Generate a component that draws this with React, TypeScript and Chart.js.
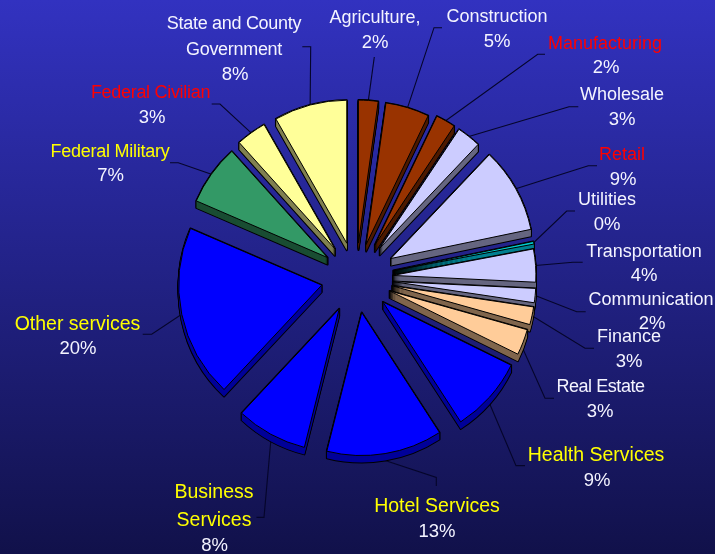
import React, { useEffect, useRef } from "react";
import { Chart, registerables } from "chart.js";

Chart.register(...registerables);

const categories = [
  "Agriculture", "Construction", "Manufacturing", "Wholesale", "Retail", "Utilities",
  "Transportation", "Communication", "Finance", "Real Estate", "Health Services",
  "Hotel Services", "Business Services", "Other services", "Federal Military",
  "Federal Civilian", "State and County Government",
];
// Share of employment
const shares = [2.2, 4.9, 2.2, 2.7, 9.6, 0.3, 3.7, 1.6, 2.0, 2.9, 8.5, 13.0, 8.0, 19.4, 6.8, 3.4, 8.2];
const percentLabels = ["2%", "5%", "2%", "3%", "9%", "0%", "4%", "2%", "3%", "3%", "9%", "13%", "8%", "20%", "7%", "3%", "8%"];

const WHITE = "#F4F4FF";
const RED = "#FF0000";
const YELLOW = "#FFFF00";

const faceColors = [
  "#993300", "#993300", "#993300", "#CCCCFF", "#CCCCFF", "#00CCCC", "#CCCCFF", "#CCCCFF", "#FFCC99",
  "#FFCC99", "#0000FF", "#0000FF", "#0000FF", "#0000FF", "#339966", "#FFFF99", "#FFFF99",
];
const sideColors = [
  "#4D1A00", "#4D1A00", "#4D1A00", "#666680", "#666680", "#008090", "#666680", "#666680", "#80664D",
  "#80664D", "#000099", "#000099", "#000099", "#000099", "#1A4D33", "#808050", "#808050",
];
const explode = [35, 35, 38, 38, 40, 38, 37, 37, 37, 36, 36, 35, 35, 35, 35, 36, 36];
const DEPTH = 7;

// Hand-placed callouts: text lines [text, centre x, baseline y], and the leader's elbow and end.
type Callout = { color: string; size: number; track?: number; lines: [string, number, number][]; pct: [number, number]; leader: [number, number][] };
const callouts: Callout[] = [
  { color: WHITE, size: 18, lines: [["Agriculture,", 375, 23]], pct: [375, 48], leader: [[374.3, 57]] },
  { color: WHITE, size: 18, lines: [["Construction", 497, 22]], pct: [497, 47], leader: [[434, 27.7], [442, 27.7]] },
  { color: RED, size: 18, lines: [["Manufacturing", 605, 49]], pct: [606, 73], leader: [[537.7, 54.3], [545, 54.3]] },
  { color: WHITE, size: 18, lines: [["Wholesale", 622, 100]], pct: [622, 125], leader: [[569, 106.7], [578.3, 106.7]] },
  { color: RED, size: 18, lines: [["Retail", 622, 160]], pct: [623, 185], leader: [[588.3, 165.7], [597, 165.7]] },
  { color: WHITE, size: 18, lines: [["Utilities", 607, 205]], pct: [607, 230], leader: [[566.7, 211], [575, 211]] },
  { color: WHITE, size: 18, lines: [["Transportation", 644, 257]], pct: [644, 281], leader: [[573, 262.3], [582.7, 262.3]] },
  { color: WHITE, size: 18, lines: [["Communication", 651, 305]], pct: [652, 329], leader: [[576.7, 311.7], [585.7, 311.7]] },
  { color: WHITE, size: 18, lines: [["Finance", 629, 342]], pct: [629, 367], leader: [[585, 348.3], [594, 348.3]] },
  { color: WHITE, size: 18, track: -0.45, lines: [["Real Estate", 600.5, 392]], pct: [600, 417], leader: [[545, 398.3], [554, 398.3]] },
  { color: YELLOW, size: 19.5, lines: [["Health Services", 596, 461]], pct: [597, 486], leader: [[516, 465.6], [525, 465.6]] },
  { color: YELLOW, size: 19.5, lines: [["Hotel Services", 437, 512]], pct: [437, 537], leader: [[436.3, 477.5], [436.3, 486]] },
  { color: YELLOW, size: 19.5, lines: [["Business", 214, 498], ["Services", 214, 526]], pct: [214.5, 551], leader: [[264, 517.4], [256.5, 517.4]] },
  { color: YELLOW, size: 19.5, lines: [["Other services", 77.5, 330]], pct: [78, 354], leader: [[151.7, 334.3], [142.7, 334.3]] },
  { color: YELLOW, size: 18, track: -0.25, lines: [["Federal Military", 110, 157]], pct: [110.5, 181], leader: [[178.3, 162.7], [170, 162.7]] },
  { color: RED, size: 18, track: -0.3, lines: [["Federal Civilian", 150.5, 98]], pct: [152, 123], leader: [[220, 104], [211.7, 104]] },
  { color: WHITE, size: 18, track: -0.3, lines: [["State and County", 234, 29], ["Government", 234, 55]], pct: [235, 80], leader: [[310.7, 46.7], [302.3, 46.7]] },
];

const FONT = '"Liberation Sans", Arial, sans-serif';

const explodedPie = {
  id: "explodedPie",
  beforeDraw(chart: any) {
    const { ctx, width, height } = chart;
    const g = ctx.createLinearGradient(0, 0, 0, height);
    g.addColorStop(0, "#3232C0");
    g.addColorStop(1, "#11114A");
    ctx.save();
    ctx.fillStyle = g;
    ctx.fillRect(0, 0, width, height);
    ctx.restore();
  },
  beforeDatasetDraw() {
    return false; // slices are painted back-to-front below, each over its own extrusion
  },
  afterDatasetsDraw(chart: any) {
    const { ctx } = chart;
    const arcs: any[] = chart.getDatasetMeta(0).data;
    const mid = (a: any) => (a.startAngle + a.endAngle) / 2;

    // Leader lines start on the outer rim of the slice, at its middle angle
    ctx.save();
    ctx.strokeStyle = "#05052A";
    ctx.lineWidth = 1.1;
    arcs.forEach((a, i) => {
      const m = mid(a);
      const r = a.outerRadius + explode[i];
      const sx = a.x + Math.cos(m) * r;
      const sy = a.y + Math.sin(m) * r + (Math.sin(m) > 0.3 ? DEPTH : 0);
      ctx.beginPath();
      ctx.moveTo(sx, sy);
      callouts[i].leader.forEach(([x, y]) => ctx.lineTo(x, y));
      ctx.stroke();
    });
    ctx.restore();

    const order = arcs.map((a, i) => i).sort((p, q) => Math.sin(mid(arcs[p])) - Math.sin(mid(arcs[q])));
    order.forEach((i) => {
      const a = arcs[i];
      const m = mid(a);
      const dx = Math.cos(m) * explode[i];
      const dy = Math.sin(m) * explode[i];
      const sector = (d: number) => {
        ctx.beginPath();
        ctx.moveTo(a.x, a.y + d);
        ctx.arc(a.x, a.y + d, a.outerRadius, a.startAngle, a.endAngle);
        ctx.closePath();
      };
      ctx.save();
      ctx.translate(dx, dy);
      ctx.lineJoin = "round";
      ctx.strokeStyle = "#000";
      ctx.lineWidth = 2;
      for (let d = DEPTH; d >= 0; d--) {
        sector(d);
        ctx.stroke();
      }
      ctx.fillStyle = sideColors[i];
      for (let d = DEPTH; d >= 0; d--) {
        sector(d);
        ctx.fill();
      }
      a.draw(ctx);
      ctx.restore();
    });
  },
  afterDraw(chart: any) {
    const { ctx } = chart;
    ctx.save();
    ctx.textAlign = "center";
    ctx.textBaseline = "alphabetic";
    callouts.forEach((c, i) => {
      ctx.font = `${c.size}px ${FONT}`;
      ctx.letterSpacing = `${c.track ?? 0}px`;
      ctx.fillStyle = c.color;
      c.lines.forEach(([t, x, y]) => ctx.fillText(t, x, y));
      ctx.letterSpacing = "0px";
      ctx.font = `18.5px ${FONT}`;
      ctx.fillStyle = WHITE;
      ctx.fillText(percentLabels[i], c.pct[0], c.pct[1]);
    });
    ctx.restore();
  },
};

export default function App() {
  const ref = useRef<HTMLCanvasElement>(null);
  useEffect(() => {
    const chart = new Chart(ref.current as HTMLCanvasElement, {
      type: "pie",
      data: {
        labels: categories,
        datasets: [{ data: shares, backgroundColor: faceColors, borderColor: "#000000", borderWidth: 1 }],
      },
      options: {
        animation: false,
        responsive: false,
        radius: 143,
        rotation: 0,
        layout: { padding: { top: 2, right: 3 } },
        plugins: { legend: { display: false }, tooltip: { enabled: false } },
      } as any,
      plugins: [explodedPie as any],
    });
    return () => chart.destroy();
  }, []);
  return (
    <canvas
      ref={ref}
      width={715}
      height={554}
      style={{ position: "fixed", left: 0, top: 0, display: "block", width: 715, height: 554 }}
    />
  );
}
